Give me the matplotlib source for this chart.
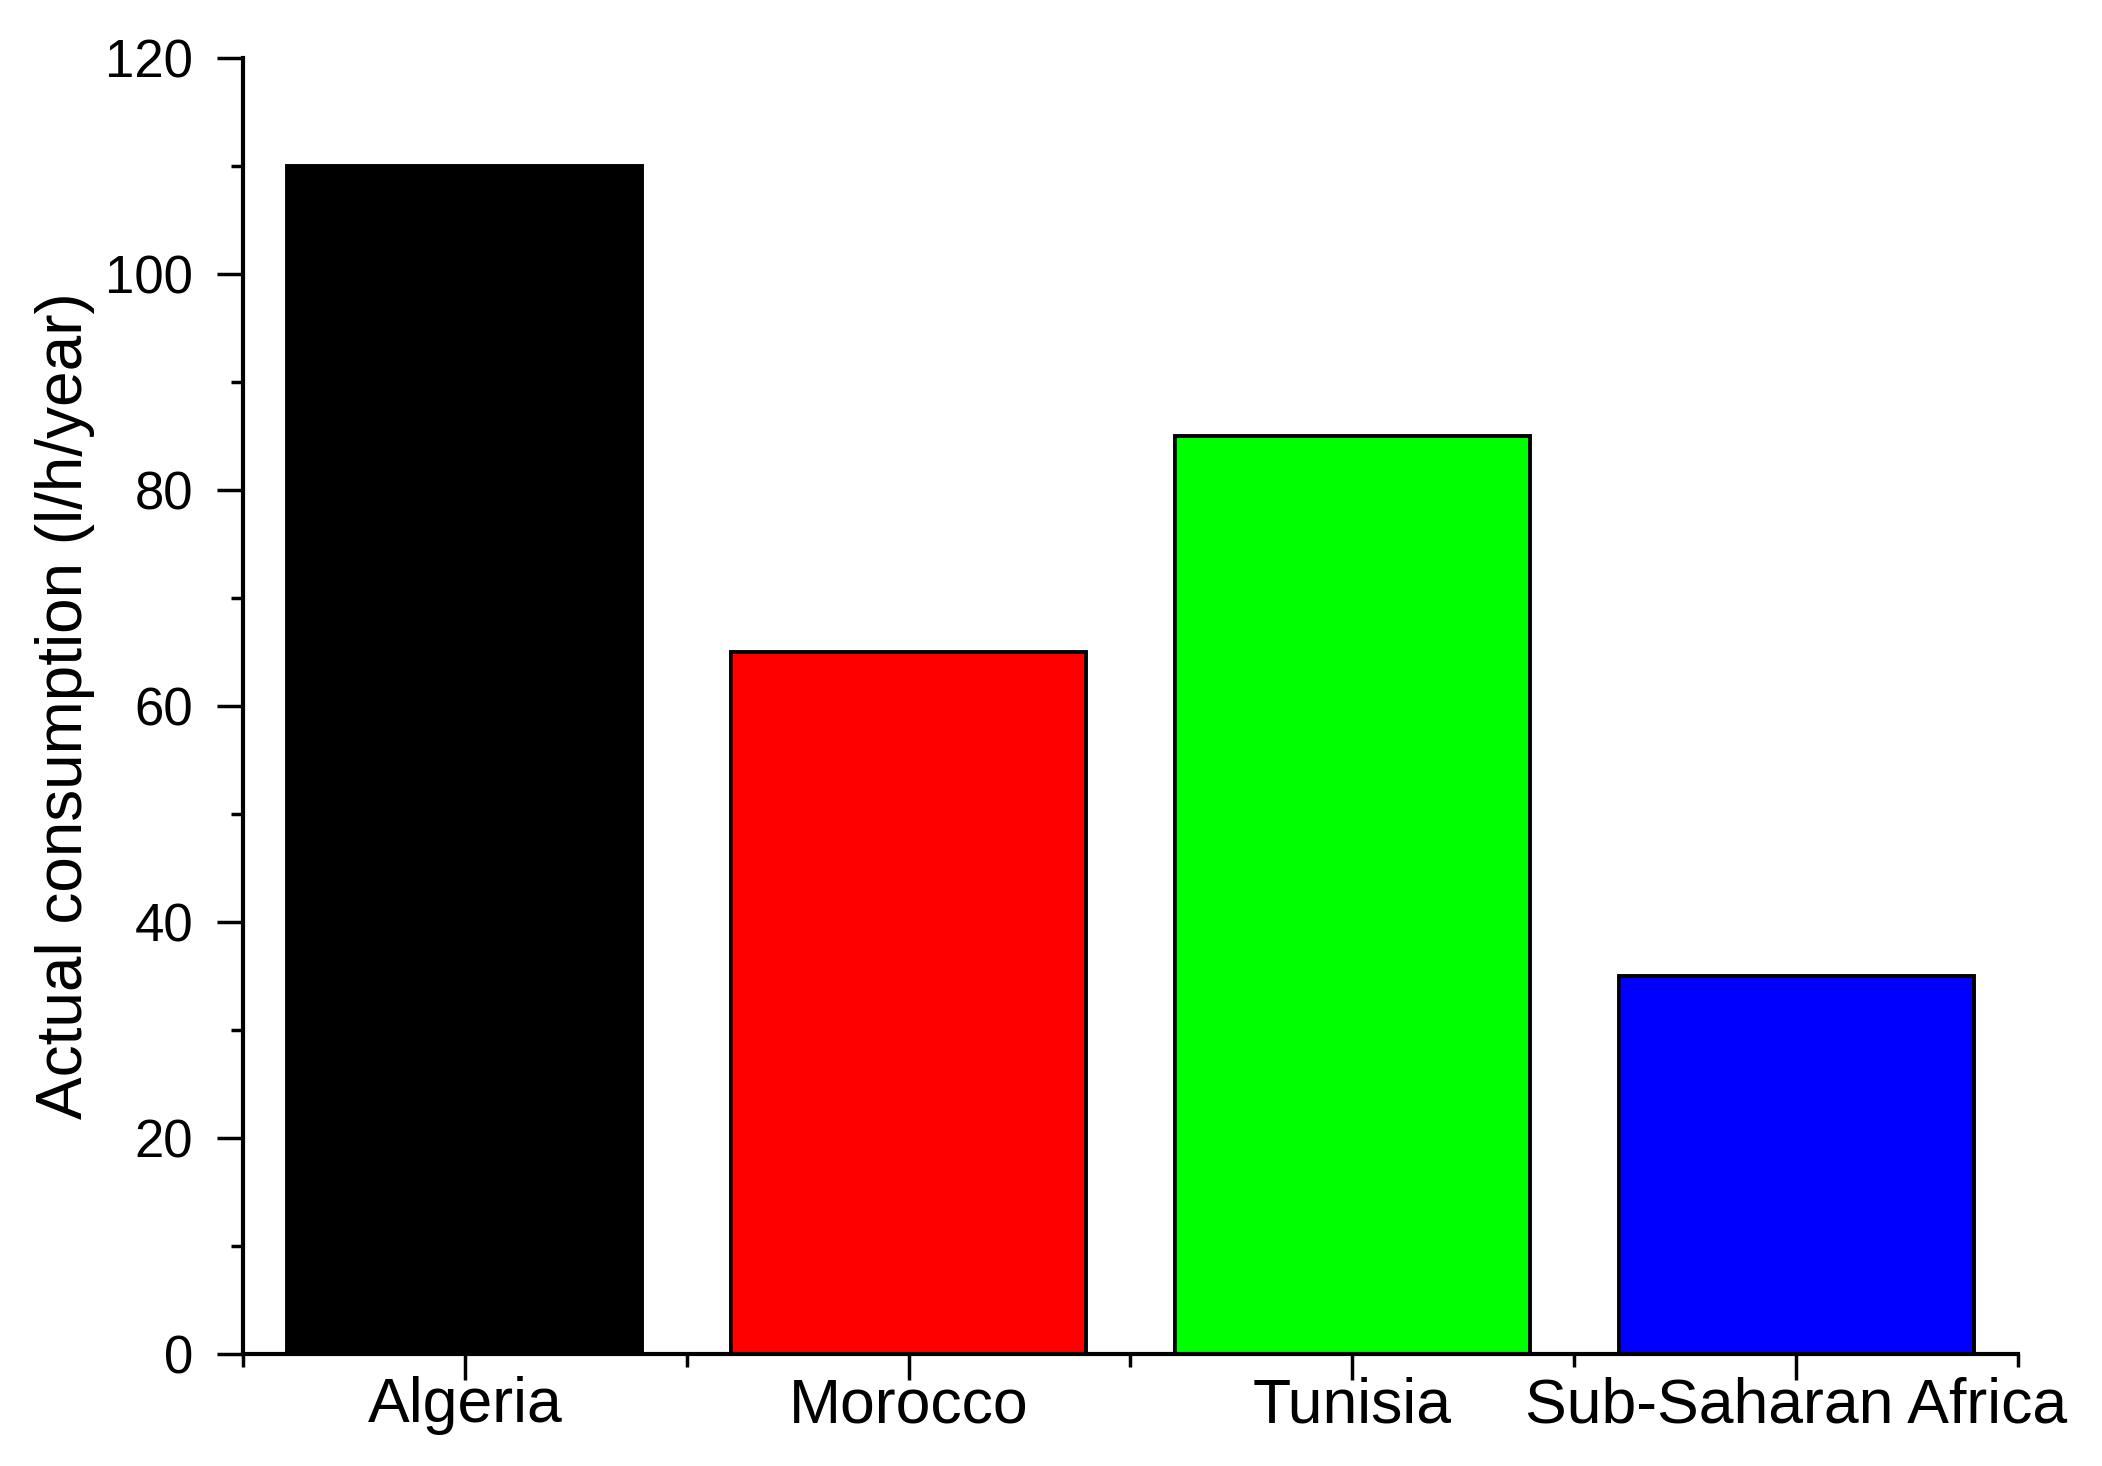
import matplotlib
matplotlib.use("Agg")
import matplotlib.pyplot as plt
from matplotlib.ticker import MultipleLocator, FixedLocator

categories = ["Algeria", "Morocco", "Tunisia", "Sub-Saharan Africa"]
values = [110, 65, 85, 35]
colors = ["#000000", "#FF0000", "#00FF00", "#0000FF"]
ylabel = "Actual consumption (l/h/year)"

plt.rcParams["font.family"] = ["Liberation Sans", "DejaVu Sans"]

fig = plt.figure(figsize=(21.02, 14.66), dpi=100)
ax = fig.add_axes([0.1156, 0.0764, 0.8444, 0.884])

pos = list(range(1, len(categories) + 1))
ax.bar(pos, values, width=0.8, color=colors, edgecolor="black", linewidth=2.8)

ax.set_xlim(0.5, 4.5)
ax.set_ylim(0, 120)

for s in ["top", "right"]:
    ax.spines[s].set_visible(False)
for s in ["left", "bottom"]:
    ax.spines[s].set_linewidth(3)

ax.set_xticks(pos)
ax.set_xticklabels(categories)
ax.xaxis.set_minor_locator(FixedLocator([0.5, 1.5, 2.5, 3.5, 4.5]))
ax.yaxis.set_major_locator(MultipleLocator(20))
ax.yaxis.set_minor_locator(MultipleLocator(10))

ax.tick_params(axis="both", which="major", direction="out", length=19, width=2.5)
ax.tick_params(axis="both", which="minor", direction="out", length=9, width=2.5)
ax.tick_params(axis="y", which="major", labelsize=38, pad=17)
ax.tick_params(axis="x", which="major", labelsize=45, pad=-3)

ax.set_ylabel(ylabel, fontsize=46)
ax.yaxis.set_label_coords(-0.0834, 0.5)

fig.savefig("out.png", dpi=100, facecolor="white")
